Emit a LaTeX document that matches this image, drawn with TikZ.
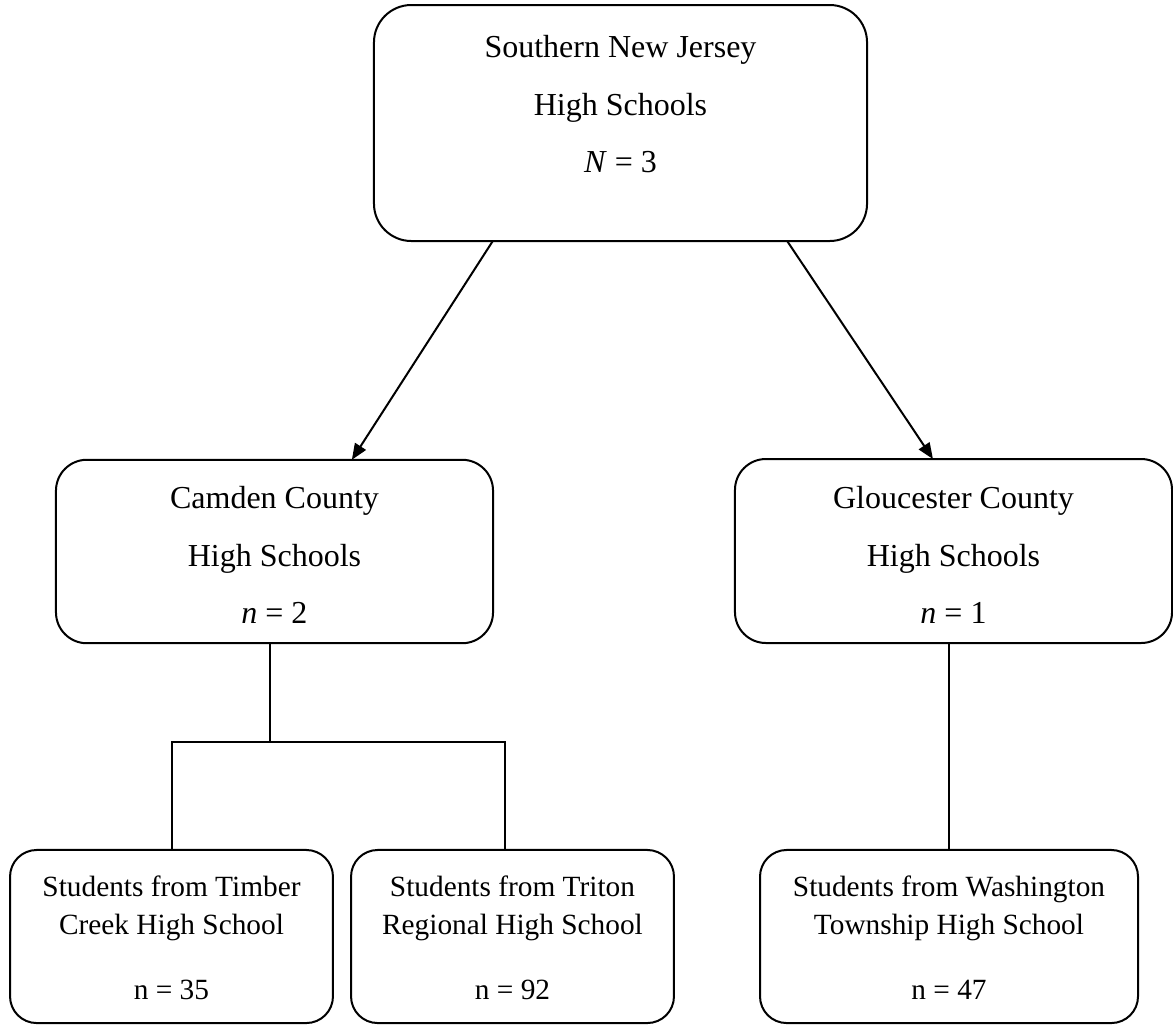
\documentclass[tikz,border=0pt]{standalone}
\usepackage{fontspec}
\setmainfont{Liberation Serif}
\usetikzlibrary{arrows.meta,calc}
\begin{document}
\begin{tikzpicture}[x=0.375pt,y=-0.375pt,
  box/.style={draw, line width=0.75pt, inner sep=0pt, outer sep=0pt},
  bigtxt/.style={anchor=north, align=center, inner sep=0pt, font=\fontsize{12}{21.6}\selectfont},
  smalltxt/.style={anchor=north, align=center, inner sep=0pt, font=\fontsize{11}{14.25}\selectfont},
  link/.style={line width=0.75pt},
  arr/.style={line width=0.75pt, -{Triangle[length=6pt, width=4.8pt]}}]
\useasboundingbox (0,0) rectangle (1173,1025);
% boxes
\node[box, rounded corners=14pt, minimum width=184.9pt, minimum height=88.5pt] (sj) at (620.5,123) {};
\node[box, rounded corners=11.6pt, minimum width=163.9pt, minimum height=68.8pt] (cc) at (274.5,551.5) {};
\node[box, rounded corners=11.6pt, minimum width=163.9pt, minimum height=69pt] (gc) at (953.5,551) {};
\node[box, rounded corners=10pt, minimum width=121.1pt, minimum height=64.9pt] (tc) at (171.5,936.5) {};
\node[box, rounded corners=10pt, minimum width=121.1pt, minimum height=64.9pt] (tr) at (512.5,936.5) {};
\node[box, rounded corners=10pt, minimum width=141.75pt, minimum height=64.9pt] (wt) at (949,936.5) {};
% texts
\node[bigtxt] (sjt) at (620.5,35) {Southern New Jersey\\High Schools\\\textit{N} = 3};
\node[bigtxt] (cct) at (274.5,486) {Camden County\\High Schools\\\textit{n} = 2};
\node[bigtxt] (gct) at (953.5,486) {Gloucester County\\High Schools\\\textit{n} = 1};
\node[smalltxt] (tct) at (171.5,875) {Students from Timber\\Creek High School\\[10.15pt]n = 35};
\node[smalltxt] (trt) at (512.5,875) {Students from Triton\\Regional High School\\[10.15pt]n = 92};
\node[smalltxt] (wtt) at (949,875) {Students from Washington\\Township High School\\[10.15pt]n = 47};
% connectors
\draw[arr] ($(sj.south west)!0.241!(sj.south east)$) -- ($(cc.north west)!0.677!(cc.north east)$);
\draw[arr] ($(sj.south west)!0.838!(sj.south east)$) -- ($(gc.north west)!0.453!(gc.north east)$);
\coordinate (cj) at (270,742);
\coordinate (cl) at (172,742);
\coordinate (cr) at (505,742);
\draw[link] (cc.south -| cj) -- (cj);
\draw[link] (tc.north -| cl) -- (cl) -- (cr) -- (tr.north -| cr);
\draw[link] (wt.north) -- (wt.north |- gc.south);
\end{tikzpicture}
\end{document}
